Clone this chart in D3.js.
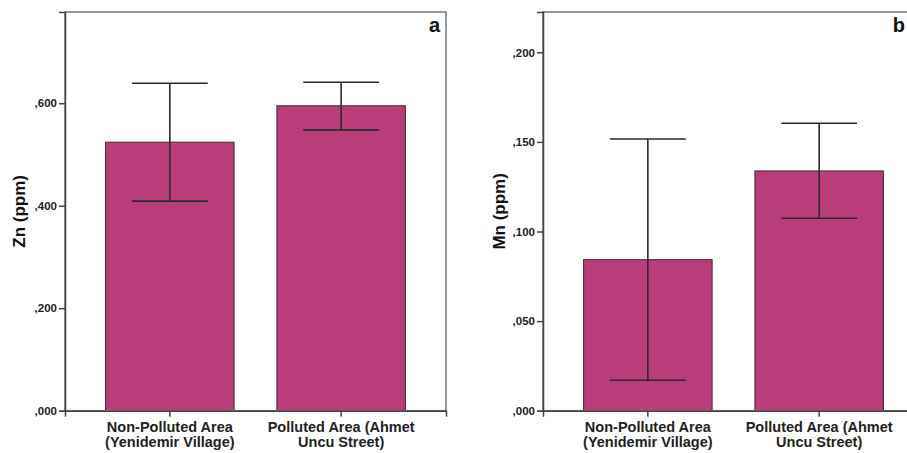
<!DOCTYPE html>
<html>
<head>
<meta charset="utf-8">
<script src="https://cdn.jsdelivr.net/npm/d3@7"></script>
<style>
  html, body { margin: 0; padding: 0; background: #fff; }
  svg { display: block; }
</style>
</head>
<body>
<svg id="chart" width="907" height="453"></svg>
<script>
// ---- data ----
const categories = ["Non-Polluted Area (Yenidemir Village)", "Polluted Area (Ahmet Uncu Street)"];
const categoryLines = [["Non-Polluted Area", "(Yenidemir Village)"], ["Polluted Area (Ahmet", "Uncu Street)"]];
const znMean = [0.524, 0.595];
const znLow  = [0.409, 0.548];
const znHigh = [0.639, 0.641];
const mnMean = [0.0843, 0.1338];
const mnLow  = [0.017, 0.1074];
const mnHigh = [0.1516, 0.1604];
const znTicks = [0, 0.2, 0.4, 0.6];
const mnTicks = [0, 0.05, 0.1, 0.15, 0.2];
const panels = [
  { letter: "a", yLabel: "Zn (ppm)", mean: znMean, low: znLow, high: znHigh, ticks: znTicks, yMax: 0.778, x0: 65, labelX: 19 },
  { letter: "b", yLabel: "Mn (ppm)", mean: mnMean, low: mnLow, high: mnHigh, ticks: mnTicks, yMax: 0.2225, x0: 543, labelX: 499 }
];

const W = 907;
const svg = d3.select("#chart");
const plotTop = 12, plotBottom = 410.7, plotW = 381;
const barColor = "#b93d7b";
const fmt = d => d3.format(".3f")(d).replace(/^0\./, ",");

panels.forEach(p => {
  const g = svg.append("g");
  const x = d3.scaleBand().domain(categories).range([p.x0, p.x0 + plotW]).paddingInner(0.25).paddingOuter(0.237);
  const y = d3.scaleLinear().domain([0, p.yMax]).range([plotBottom, plotTop]);

  // bars
  g.selectAll("rect.bar").data(categories).join("rect")
    .attr("class", "bar")
    .attr("x", d => x(d))
    .attr("y", (d, i) => y(p.mean[i]))
    .attr("width", x.bandwidth())
    .attr("height", (d, i) => y(0) - y(p.mean[i]))
    .attr("fill", barColor)
    .attr("stroke", "#3a2a30")
    .attr("stroke-width", 1);

  // error bars
  const capW = x.bandwidth() * 0.59;
  categories.forEach((c, i) => {
    const cx = x(c) + x.bandwidth() / 2;
    const eg = g.append("g").attr("stroke", "#2b2b2b").attr("stroke-width", 1.6);
    eg.append("line").attr("x1", cx).attr("x2", cx).attr("y1", y(p.high[i])).attr("y2", y(p.low[i]));
    eg.append("line").attr("x1", cx - capW / 2).attr("x2", cx + capW / 2).attr("y1", y(p.high[i])).attr("y2", y(p.high[i]));
    eg.append("line").attr("x1", cx - capW / 2).attr("x2", cx + capW / 2).attr("y1", y(p.low[i])).attr("y2", y(p.low[i]));
  });

  // frame
  g.append("rect").attr("x", p.x0).attr("y", plotTop).attr("width", plotW).attr("height", plotBottom - plotTop)
    .attr("fill", "none").attr("stroke", "#777").attr("stroke-width", 1.5);

  // y axis
  const ya = g.append("g").attr("transform", `translate(${p.x0},0)`)
    .call(d3.axisLeft(y).tickValues(p.ticks).tickFormat(fmt).tickSize(6).tickPadding(2));
  ya.select(".domain").attr("stroke", "#444").attr("stroke-width", 1.5);
  ya.selectAll(".tick line").attr("stroke", "#444").attr("stroke-width", 1.5);
  ya.selectAll(".tick text").attr("font-family", "Liberation Sans, Arial, sans-serif")
    .attr("font-size", 11.5).attr("font-weight", "bold").attr("fill", "#222");

  // x axis
  const xa = g.append("g").attr("transform", `translate(0,${plotBottom})`)
    .call(d3.axisBottom(x).tickSize(6).tickFormat(""));
  xa.select(".domain").attr("stroke", "#444").attr("stroke-width", 1.5);
  xa.selectAll(".tick line").attr("stroke", "#444").attr("stroke-width", 1.5);
  xa.selectAll(".tick").each(function(d, i) {
    const t = d3.select(this).append("text")
      .attr("font-family", "Liberation Sans, Arial, sans-serif")
      .attr("font-size", 14.5).attr("font-weight", "bold").attr("fill", "#222")
      .attr("text-anchor", "middle");
    categoryLines[i].forEach((ln, k) => {
      t.append("tspan").attr("x", 0).attr("y", 21 + k * 15).text(ln);
    });
  });

  // y label
  g.append("text")
    .attr("transform", `translate(${p.labelX + 6},${(plotTop + plotBottom) / 2}) rotate(-90)`)
    .attr("text-anchor", "middle")
    .attr("font-family", "Liberation Sans, Arial, sans-serif")
    .attr("font-size", 17).attr("font-weight", "bold").attr("fill", "#111")
    .text(p.yLabel);

  // panel letter, kept inside the visible page
  g.append("text")
    .attr("x", Math.min(p.x0 + plotW - 6, W - 2)).attr("y", 32)
    .attr("text-anchor", "end")
    .attr("font-family", "Liberation Sans, Arial, sans-serif")
    .attr("font-size", 20).attr("font-weight", "bold").attr("fill", "#111")
    .text(p.letter);
});
</script>
</body>
</html>
